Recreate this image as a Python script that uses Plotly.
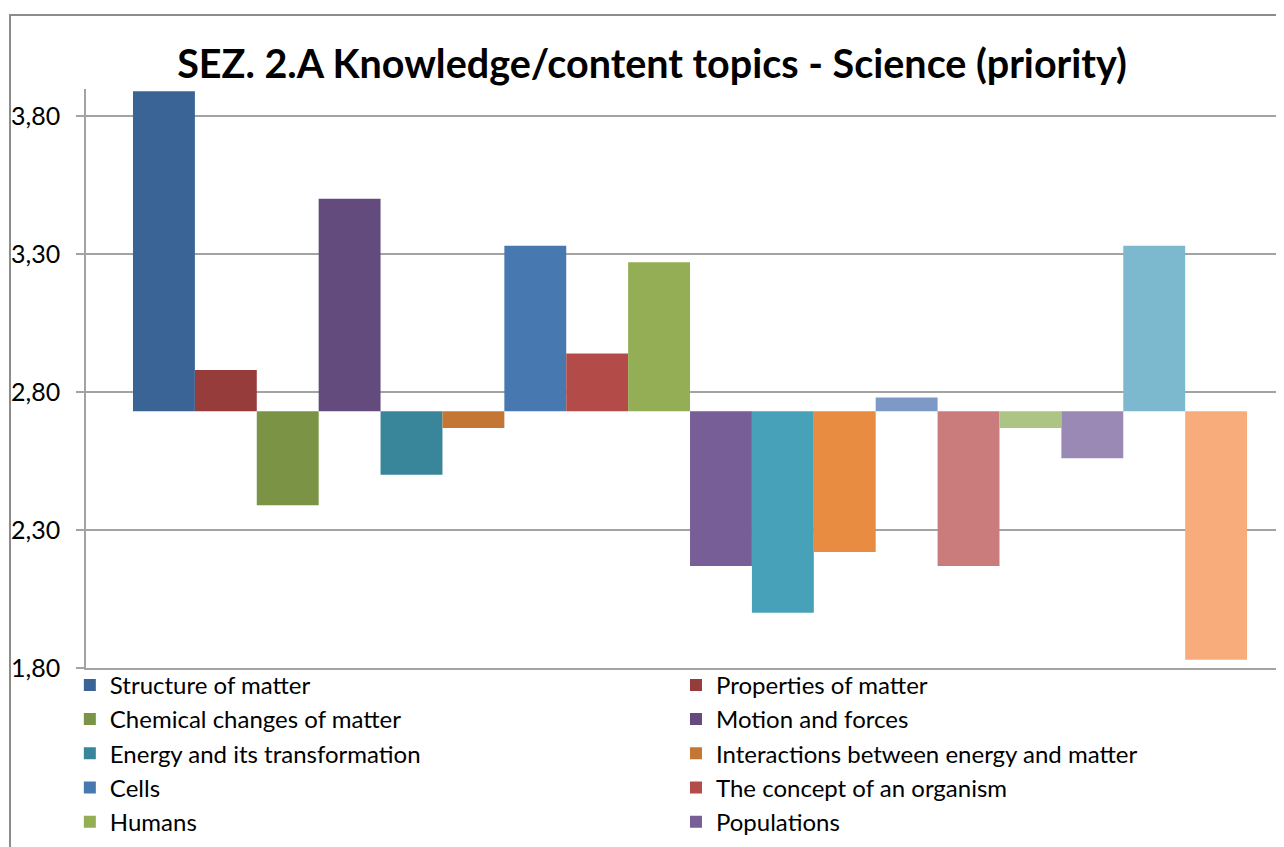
import plotly.graph_objects as go

# ---- data ----
topics = [
    "Structure of matter",
    "Properties of matter",
    "Chemical changes of matter",
    "Motion and forces",
    "Energy and its transformation",
    "Interactions between energy and matter",
    "Cells",
    "The concept of an organism",
    "Humans",
    "Populations",
    "Ecosystems",
    "Biosphere",
    "Structures of the Earth systems",
    "Energy in the Earth systems",
    "Change in Earth systems",
    "Earth's history",
    "Earth in space",
    "The universe and its history",
]
values = [3.89, 2.88, 2.39, 3.50, 2.50, 2.67, 3.33, 2.94, 3.27,
          2.17, 2.00, 2.22, 2.78, 2.17, 2.67, 2.56, 3.33, 1.83]
baseline = 2.73
visible_in_legend = 10
colors = ["#3B6496", "#963C3B", "#7B9344", "#634C7D", "#39869A", "#C47734",
          "#4878B0", "#B34B48", "#93AE55", "#775E96", "#47A1B9", "#E88C42",
          "#7D9AC7", "#C97C7B", "#ADC584", "#9B89B5", "#7DB9CE", "#F8AC7B"]
y_ticks = [1.80, 2.30, 2.80, 3.30, 3.80]
title_text = "SEZ. 2.A Knowledge/content topics - Science (priority)"

FONT = "Lato, Open Sans, sans-serif"
GRID = "#a3a3a3"

fig = go.Figure()
for i, (name, v, c) in enumerate(zip(topics, values, colors)):
    fig.add_trace(go.Bar(
        x=["Science"], y=[v - baseline], base=baseline, name=name,
        marker=dict(color=c, line=dict(width=0)),
        showlegend=i < visible_in_legend,
        legend="legend" if i % 2 == 0 else "legend2",
        hovertemplate=name + ": %{customdata}<extra></extra>",
        customdata=[f"{v:.2f}"],
    ))

legend_common = dict(orientation="v", yanchor="top", y=0.009, xanchor="left",
                     font=dict(family=FONT, size=24, color="black"),
                     bgcolor="rgba(0,0,0,0)", itemclick=False,
                     itemdoubleclick=False, tracegroupgap=0)

fig.update_layout(
    width=1284, height=847, autosize=False,
    margin=dict(l=78, r=0, t=81, b=187, autoexpand=False),
    paper_bgcolor="white", plot_bgcolor="white",
    separators=", ",
    barmode="group", bargap=0.0778, bargroupgap=0,
    font=dict(family=FONT, size=24, color="black"),
    title=dict(text="<b>" + title_text + "</b>",
               font=dict(family=FONT, size=39.5, color="black"),
               x=0.5016, xref="container", xanchor="center",
               y=1 - 56 / 847, yref="container", yanchor="middle"),
    xaxis=dict(type="category", range=[-0.5, 0.4983], showticklabels=False,
               showgrid=False, zeroline=False, showline=True,
               linecolor=GRID, linewidth=1.5, ticks="", automargin=False),
    yaxis=dict(range=[1.80, 3.898], tickvals=y_ticks, tickformat=".2f",
               showgrid=True, gridcolor=GRID, gridwidth=1.5,
               showline=True, linecolor=GRID, linewidth=1.5,
               ticks="outside", ticklen=8, tickcolor=GRID, tickwidth=1.5,
               ticklabelstandoff=11, zeroline=False, automargin=False,
               tickfont=dict(family=FONT, size=25, color="black")),
    legend=dict(x=-0.0134, **legend_common),
    legend2=dict(x=0.4892, **legend_common),
    shapes=[dict(type="rect", xref="paper", yref="paper",
                 x0=-0.063, x1=1.05, y0=-0.5, y1=1.1278,
                 line=dict(color="#8c8c8c", width=2), layer="below")],
)

fig.write_html("out.html")
